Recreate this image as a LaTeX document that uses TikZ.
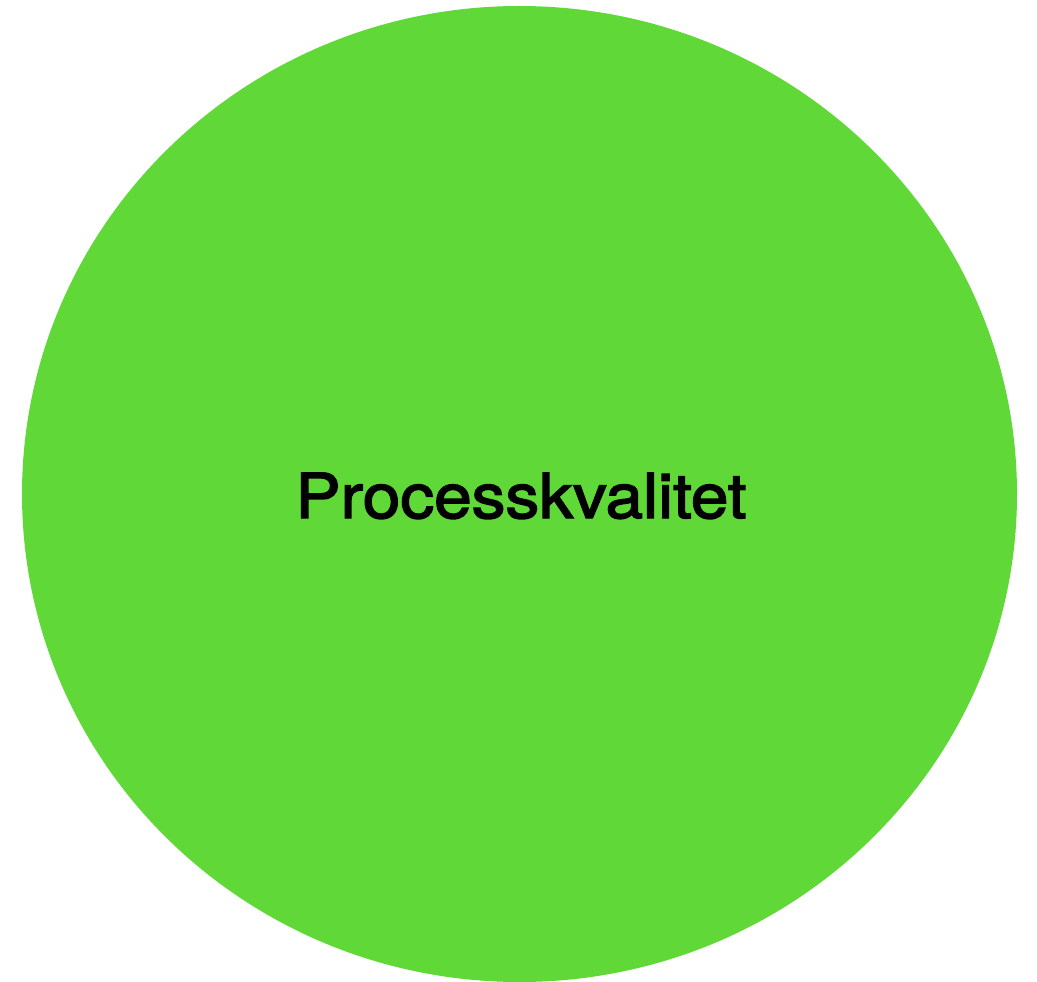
\documentclass[tikz,border=0pt]{standalone}
\usepackage{fontspec}
\setmainfont{TeX Gyre Heros}
\newfontfamily\labelfont[FakeStretch=1.09,FakeBold=2.4]{TeX Gyre Heros}
\definecolor{procgreen}{HTML}{60D938}
\begin{document}
\begin{tikzpicture}[x=1pt,y=-1pt]
  \useasboundingbox (0,0) rectangle (1037,982);
  \fill[color=procgreen] (519.5,494) ellipse [x radius=497.5, y radius=488];
  \node[color=black,inner sep=0pt,anchor=base,font=\labelfont\fontsize{62}{70}\selectfont] (kval) at (521,518) {Processkvalitet};
\end{tikzpicture}
\end{document}
